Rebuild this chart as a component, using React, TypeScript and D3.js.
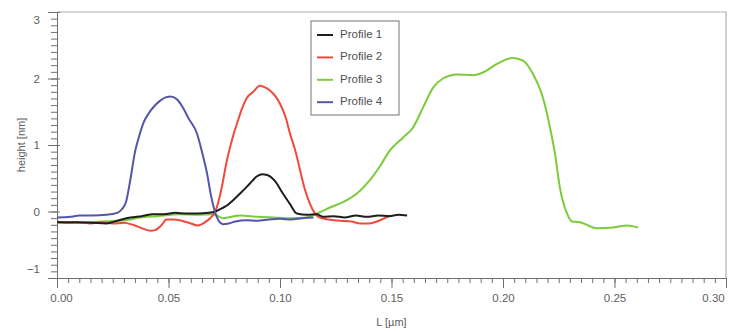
import { useEffect, useRef } from "react";
import * as d3 from "d3";

type Pt = [number, number];

// Profile 1 (black)
const profile1: Pt[] = [
	[0.0, -0.16], [0.008, -0.16], [0.016, -0.17], [0.022, -0.18], [0.025, -0.16],
	[0.029, -0.12], [0.033, -0.09], [0.038, -0.07], [0.043, -0.04], [0.048, -0.04],
	[0.053, -0.02], [0.058, -0.03], [0.063, -0.03], [0.068, -0.02], [0.071, 0.0],
	[0.074, 0.05], [0.0762, 0.09], [0.079, 0.17], [0.0821, 0.27], [0.0865, 0.42],
	[0.0897, 0.53], [0.092, 0.56], [0.0942, 0.55], [0.0977, 0.46], [0.1013, 0.27],
	[0.1045, 0.11], [0.1076, -0.03], [0.112, -0.05], [0.1166, -0.04], [0.1193, -0.08],
	[0.124, -0.07], [0.129, -0.09], [0.134, -0.06], [0.139, -0.08], [0.144, -0.06],
	[0.149, -0.07], [0.153, -0.05], [0.157, -0.06],
];

// Profile 2 (red)
const profile2: Pt[] = [
	[0.0, -0.15], [0.005, -0.17], [0.01, -0.16], [0.015, -0.18], [0.02, -0.16],
	[0.025, -0.18], [0.03, -0.17], [0.034, -0.2], [0.038, -0.25], [0.042, -0.29],
	[0.044, -0.28], [0.047, -0.2], [0.049, -0.12], [0.052, -0.12], [0.056, -0.14],
	[0.06, -0.18], [0.063, -0.21], [0.066, -0.17], [0.069, -0.09], [0.071, 0.0],
	[0.0735, 0.3], [0.0762, 0.77], [0.0785, 1.08], [0.0807, 1.32], [0.083, 1.55],
	[0.0852, 1.71], [0.088, 1.8], [0.091, 1.89], [0.093, 1.87], [0.0955, 1.82],
	[0.098, 1.73], [0.1, 1.62], [0.1025, 1.42], [0.1045, 1.17], [0.107, 0.9],
	[0.109, 0.62], [0.111, 0.35], [0.1134, 0.12], [0.1155, -0.02], [0.1179, -0.09],
	[0.122, -0.12], [0.127, -0.14], [0.132, -0.15], [0.136, -0.18], [0.14, -0.18],
	[0.1435, -0.15], [0.1462, -0.11], [0.1493, -0.06],
];

// Profile 3 (green)
const profile3: Pt[] = [
	[0.0, -0.17], [0.01, -0.17], [0.02, -0.15], [0.027, -0.14], [0.033, -0.12],
	[0.037, -0.09], [0.045, -0.07], [0.055, -0.04], [0.063, -0.05], [0.07, -0.04],
	[0.0744, -0.1], [0.0821, -0.06], [0.09, -0.08], [0.0969, -0.09], [0.1045, -0.1],
	[0.1121, -0.09], [0.1166, -0.03], [0.1224, 0.06], [0.13, 0.17], [0.1345, 0.27],
	[0.1403, 0.47], [0.1448, 0.68], [0.1493, 0.92], [0.1551, 1.11], [0.1596, 1.26],
	[0.1641, 1.56], [0.1686, 1.86], [0.1731, 2.0], [0.1794, 2.06], [0.1865, 2.05],
	[0.191, 2.09], [0.1973, 2.22], [0.2045, 2.31], [0.209, 2.27], [0.2134, 2.07],
	[0.2179, 1.71], [0.2211, 1.26], [0.2233, 0.87], [0.2255, 0.36], [0.2287, -0.03],
	[0.2309, -0.15], [0.2345, -0.16], [0.2421, -0.25], [0.2493, -0.24], [0.2556, -0.21],
	[0.2605, -0.24],
];

// Profile 4 (blue)
const profile4: Pt[] = [
	[0.0, -0.09], [0.006, -0.08], [0.01, -0.06], [0.016, -0.06], [0.022, -0.05],
	[0.027, -0.02], [0.029, 0.03], [0.031, 0.15], [0.033, 0.5], [0.035, 0.9],
	[0.037, 1.15], [0.039, 1.35], [0.041, 1.47], [0.043, 1.56], [0.046, 1.66],
	[0.049, 1.72], [0.051, 1.73], [0.054, 1.68], [0.0565, 1.56], [0.059, 1.4],
	[0.0628, 1.17], [0.065, 0.9], [0.0673, 0.57], [0.069, 0.25], [0.0708, 0.0],
	[0.0725, -0.14], [0.0744, -0.19], [0.077, -0.18], [0.08, -0.15], [0.085, -0.13],
	[0.09, -0.14], [0.095, -0.12], [0.1, -0.11], [0.105, -0.12], [0.11, -0.1],
	[0.115, -0.09],
];

const seriesNames = ["Profile 1", "Profile 2", "Profile 3", "Profile 4"];
const seriesColors = ["#1e1e1e", "#f04a3c", "#7ccb3a", "#5454a8"];
const seriesData = [profile1, profile2, profile3, profile4];

const xTicks = [0, 0.05, 0.1, 0.15, 0.2, 0.25, 0.3];
const yTicks = [-1, 0, 1, 2, 3];

const App = () => {
	const svgRef = useRef<SVGSVGElement>(null);

	useEffect(() => {
		if (!svgRef.current) return;
		const width = 730;
		const height = 332;
		const margin = { top: 12, right: 4, bottom: 54, left: 57 };
		const font = "Liberation Sans, Arial, sans-serif";
		const axisColor = "#707070";

		const svg = d3.select(svgRef.current);
		svg.selectAll("*").remove();

		const x = d3
			.scaleLinear()
			.domain([0, 0.3])
			.range([margin.left, width - margin.right]);
		const y = d3
			.scaleLinear()
			.domain([-1, 3])
			.range([height - margin.bottom, margin.top]);

		// cadre haut et droit
		svg
			.append("path")
			.attr(
				"d",
				`M${x(0)},${y(3)}H${x(0.3)}V${y(-1)}`
			)
			.attr("fill", "none")
			.attr("stroke", "#b0b0b0")
			.attr("stroke-width", 1.2);

		// graduations mineures X
		const xMinor = d3
			.axisBottom(x)
			.tickValues(d3.range(0, 61).map((i) => i * 0.005))
			.tickSize(5)
			.tickFormat(() => "");
		svg
			.append("g")
			.attr("transform", `translate(0,${y(-1)})`)
			.call(xMinor)
			.call((g) => g.selectAll("line").attr("stroke", axisColor))
			.call((g) => g.select(".domain").attr("stroke", axisColor));

		// graduations majeures X
		const xAxis = d3
			.axisBottom(x)
			.tickValues(xTicks)
			.tickSize(10)
			.tickPadding(6)
			.tickFormat((d) => d3.format(".2f")(d as number));
		const gx = svg
			.append("g")
			.attr("transform", `translate(0,${y(-1)})`)
			.call(xAxis);
		gx.select(".domain").remove();
		gx.selectAll("line").attr("stroke", axisColor);
		gx.selectAll("text")
			.attr("fill", "#606060")
			.style("font-family", font)
			.style("font-size", "11.5px")
			.attr("dx", (_d, i) => (i === 0 ? 4 : i === xTicks.length - 1 ? -13 : 0));

		// graduations mineures Y
		const yMinor = d3
			.axisLeft(y)
			.tickValues(d3.range(0, 41).map((i) => -1 + i * 0.1))
			.tickSize(6)
			.tickFormat(() => "");
		svg
			.append("g")
			.attr("transform", `translate(${x(0)},0)`)
			.call(yMinor)
			.call((g) => g.selectAll("line").attr("stroke", axisColor))
			.call((g) => g.select(".domain").attr("stroke", axisColor));

		const yAxis = d3
			.axisLeft(y)
			.tickValues(yTicks)
			.tickSize(9)
			.tickPadding(8)
			.tickFormat((d) => d3.format("d")(d as number));
		const gy = svg
			.append("g")
			.attr("transform", `translate(${x(0)},0)`)
			.call(yAxis);
		gy.select(".domain").remove();
		gy.selectAll("line").attr("stroke", axisColor).attr("x2", -9).attr("x1", 3);
		gy.selectAll("text")
			.attr("fill", "#606060")
			.style("font-family", font)
			.style("font-size", "11.5px")
			.attr("y", (d) => ((d as number) === 3 ? 8 : (d as number) === -1 ? -9 : 0));

		// titres des axes
		svg
			.append("text")
			.attr("transform", `translate(22,${(y(-1) + y(3)) / 2}) rotate(-90)`)
			.attr("text-anchor", "middle")
			.attr("dominant-baseline", "middle")
			.attr("fill", "#606060")
			.style("font-family", font)
			.style("font-size", "11px")
			.text("height [nm]");

		svg
			.append("text")
			.attr("x", x(0.15))
			.attr("y", 326)
			.attr("text-anchor", "middle")
			.attr("fill", "#606060")
			.style("font-family", font)
			.style("font-size", "11px")
			.text("L [µm]");

		// courbes
		const line = d3
			.line<Pt>()
			.x((d) => x(d[0]))
			.y((d) => y(d[1]))
			.curve(d3.curveMonotoneX);

		[2, 1, 0, 3].forEach((i) => {
			svg
				.append("path")
				.datum(seriesData[i])
				.attr("d", line)
				.attr("fill", "none")
				.attr("stroke", seriesColors[i])
				.attr("stroke-width", 2)
				.attr("stroke-linejoin", "round");
		});

		// légende
		const legend = svg.append("g").attr("transform", "translate(311,21)");
		legend
			.append("rect")
			.attr("width", 88)
			.attr("height", 94)
			.attr("fill", "#fff")
			.attr("stroke", "#8a8a8a")
			.attr("stroke-width", 1.2);
		seriesNames.forEach((name, i) => {
			const yy = 14 + i * 22.4;
			legend
				.append("line")
				.attr("x1", 6)
				.attr("x2", 22)
				.attr("y1", yy)
				.attr("y2", yy)
				.attr("stroke", seriesColors[i])
				.attr("stroke-width", 2);
			legend
				.append("text")
				.attr("x", 29)
				.attr("y", yy)
				.attr("dominant-baseline", "middle")
				.attr("fill", "#505050")
				.style("font-family", font)
				.style("font-size", "11.5px")
				.text(name);
		});
	}, []);

	return (
		<svg
			ref={svgRef}
			width={730}
			height={332}
			style={{ position: "absolute", left: 0, top: 0, background: "#fff" }}
		></svg>
	);
};

export default App;
